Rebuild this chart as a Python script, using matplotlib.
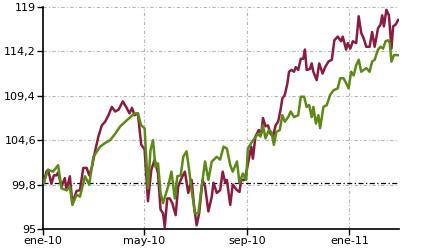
import numpy as np
import pandas as pd
import matplotlib
matplotlib.use('Agg')
import matplotlib.pyplot as plt
import matplotlib.dates as mdates

# day offsets from 2010-01-01 and index values
red_days = [1, 4, 6, 10, 13, 16, 18, 22, 26, 28, 32, 35, 40, 44, 48, 52, 55, 58, 62, 66,
            70, 74, 78, 82, 86, 90, 95, 99, 103, 106, 109, 113, 117, 121, 125, 129, 133, 137, 140, 143,
            145, 148, 151, 154, 158, 161, 165, 169, 173, 177, 180, 183, 186, 190, 193, 197, 201, 203, 207, 211,
            214, 217, 219, 223, 226, 231, 234, 236, 240, 243, 248, 250, 253, 257, 260, 262, 265, 268, 271, 274,
            277, 280, 283, 285, 288, 291, 293, 296, 299, 301, 304, 307, 310, 312, 314, 318, 320, 322, 326, 329,
            333, 336, 340, 344, 347, 351, 355, 357, 361, 363, 366, 369, 373, 376, 379, 382, 385, 389, 392, 395,
            399, 402, 404, 406, 409, 412, 415, 417, 420, 423]
red_vals = [100.0, 101.2, 101.4, 99.9, 100.8, 100.8, 101.1, 99.6, 100.5, 99.2, 100.7, 97.8, 99.1, 99.2, 101.6, 101.6, 100.8, 101.6, 103.4, 105.0,
            106.2, 106.6, 107.3, 108.2, 107.7, 107.9, 108.8, 108.2, 107.5, 108.1, 107.3, 107.5, 104.1, 103.6, 98.0, 101.4, 102.5, 101.0, 97.1, 96.7,
            95.2, 98.3, 98.3, 97.8, 96.5, 99.6, 100.5, 101.2, 98.9, 100.3, 97.4, 95.4, 96.7, 100.3, 99.6, 96.9, 98.5, 100.0, 98.9, 99.2,
            101.2, 100.0, 100.3, 97.6, 99.8, 99.2, 99.0, 100.3, 100.3, 101.5, 103.9, 102.6, 105.0, 105.7, 105.3, 107.0, 106.1, 106.2, 105.3, 105.0,
            106.2, 106.6, 107.9, 109.1, 109.5, 110.7, 112.0, 112.2, 112.0, 112.5, 112.2, 113.4, 113.4, 114.4, 112.2, 112.3, 112.9, 112.0, 111.1, 112.9,
            111.8, 112.5, 113.1, 113.3, 115.4, 115.8, 115.3, 115.8, 114.4, 115.1, 114.5, 115.3, 115.1, 118.0, 116.2, 115.6, 114.7, 114.7, 116.3, 114.7,
            116.7, 117.1, 118.1, 116.9, 118.7, 118.1, 114.5, 116.9, 117.1, 117.6]

green_days = [1, 6, 12, 18, 22, 28, 32, 35, 40, 44, 50, 55, 60, 68, 74, 80, 86, 92, 98, 104,
              109, 113, 117, 121, 125, 128, 131, 134, 137, 140, 143, 146, 149, 153, 157, 160, 164, 167, 171, 174,
              177, 181, 185, 189, 193, 197, 201, 207, 211, 215, 219, 223, 226, 231, 234, 238, 242, 244, 248, 252,
              256, 259, 262, 265, 269, 272, 275, 278, 282, 285, 288, 292, 295, 299, 304, 307, 311, 314, 317, 320,
              322, 325, 328, 330, 334, 338, 342, 346, 351, 354, 358, 362, 364, 367, 370, 373, 376, 379, 382, 385,
              389, 392, 395, 399, 402, 405, 408, 411, 413, 415, 418, 423]
green_vals = [100.0, 101.4, 101.2, 101.9, 99.4, 99.2, 99.6, 97.6, 98.7, 98.5, 100.7, 99.8, 102.8, 103.9, 104.3, 104.6, 105.3, 106.1, 106.6, 107.1,
              107.5, 107.5, 106.2, 105.9, 99.4, 103.5, 104.6, 101.7, 102.1, 98.9, 97.8, 98.7, 99.6, 101.2, 98.3, 100.7, 100.8, 102.8, 103.4, 101.4,
              99.2, 96.7, 96.7, 99.6, 102.3, 100.3, 102.3, 102.8, 102.5, 103.9, 103.7, 101.9, 101.2, 102.3, 100.0, 101.0, 100.3, 103.7, 104.3, 104.8,
              105.3, 105.0, 106.2, 104.8, 105.7, 105.5, 104.1, 105.5, 105.7, 107.3, 106.6, 107.1, 107.7, 107.1, 107.3, 109.3, 109.3, 108.2, 108.4, 107.1,
              108.2, 106.4, 107.3, 105.9, 108.2, 108.4, 109.5, 110.0, 110.2, 111.3, 111.3, 110.6, 110.2, 112.0, 111.6, 112.7, 113.3, 112.0, 112.2, 112.4,
              112.0, 113.1, 113.3, 114.4, 114.7, 114.5, 115.3, 115.4, 115.1, 113.1, 113.8, 113.8]

y_ticks = [95, 99.8, 104.6, 109.4, 114.2, 119]
y_labels = ['95', '99,8', '104,6', '109,4', '114,2', '119']
x_ticks = ['2010-01-01', '2010-05-01', '2010-09-01', '2011-01-01']
x_labels = ['ene-10', 'may-10', 'sep-10', 'ene-11']
base_level = 100

start = pd.Timestamp('2010-01-01')
red_dates = start + pd.to_timedelta(red_days, unit='D')
green_dates = start + pd.to_timedelta(green_days, unit='D')

fig = plt.figure(figsize=(4.4, 2.5), dpi=100)
ax = fig.add_axes([43/440, 21/250, 356/440, 222/250])

grid_style = dict(color='#b4b4b4', lw=0.8, ls=(0, (3, 2, 1, 2)), zorder=0)
for yt in y_ticks[1:]:
    ax.axhline(yt, **grid_style)
for xt in x_ticks[1:]:
    ax.axvline(pd.Timestamp(xt), **grid_style)
ax.axhline(base_level, color='black', lw=0.9, ls=(0, (4, 2, 1, 2)), zorder=1)

ax.plot(red_dates, red_vals, color='#8a1c40', lw=1.8, zorder=3)
ax.plot(green_dates, green_vals, color='#5b8a17', lw=1.8, zorder=4)

ax.set_xlim(start, start + pd.Timedelta(days=424))
ax.set_ylim(95, 119)
ax.set_yticks(y_ticks)
ax.set_yticklabels(y_labels)
ax.set_xticks([pd.Timestamp(t) for t in x_ticks])
ax.set_xticklabels(x_labels)

for s in ['top', 'right']:
    ax.spines[s].set_visible(False)
for s in ['left', 'bottom']:
    ax.spines[s].set_linewidth(1.2)
    ax.spines[s].set_color('black')
ax.tick_params(axis='both', labelsize=8, length=4, width=1, colors='black', pad=1)

fig.savefig('out.png', dpi=100)
